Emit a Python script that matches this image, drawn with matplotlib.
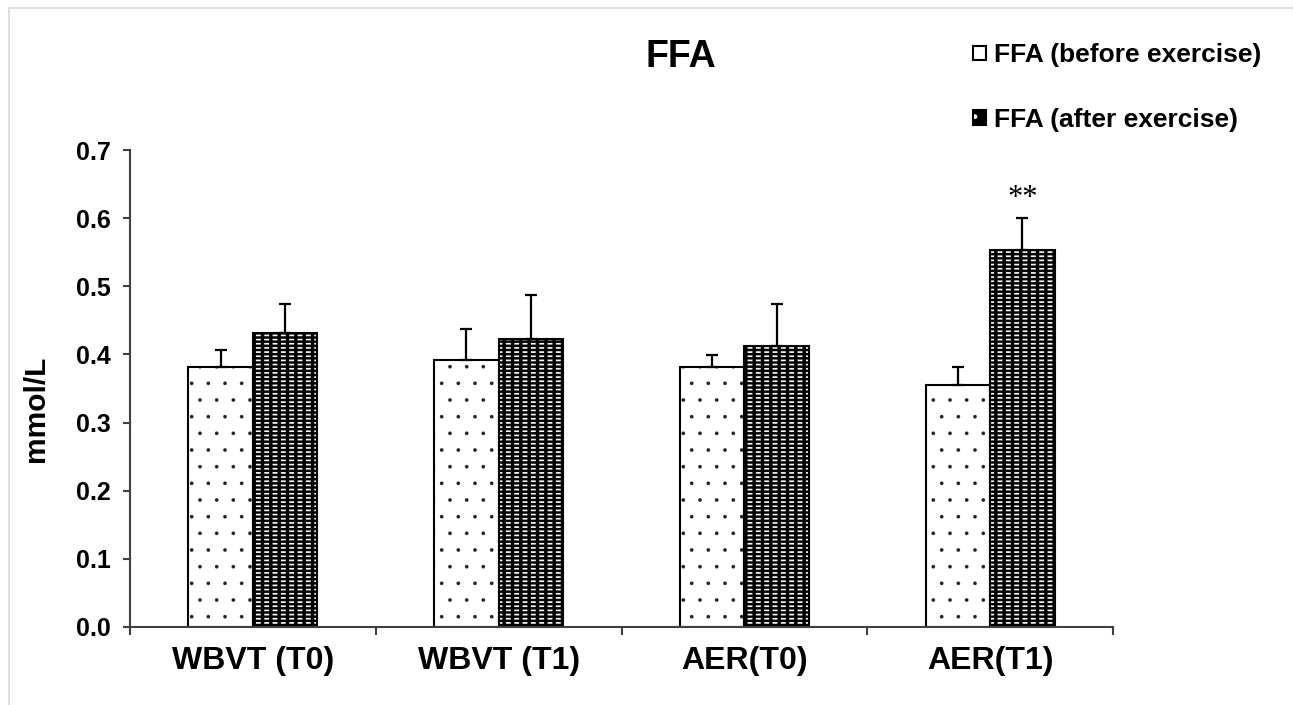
import numpy as np
import matplotlib.pyplot as plt
from matplotlib.patches import Rectangle, Patch

plt.rcParams['font.family'] = ['Liberation Sans', 'DejaVu Sans']
plt.rcParams['hatch.linewidth'] = 1.0

# data
groups = ['WBVT (T0)', 'WBVT (T1)', 'AER(T0)', 'AER(T1)']
before = [0.382, 0.392, 0.381, 0.355]
before_err = [0.025, 0.046, 0.018, 0.027]
after = [0.431, 0.422, 0.413, 0.553]
after_err = [0.043, 0.065, 0.061, 0.047]
labels = ['FFA (before exercise)', 'FFA (after exercise)']
yticks = [0.0, 0.1, 0.2, 0.3, 0.4, 0.5, 0.6, 0.7]

x = np.arange(len(groups))
w = 0.2625


def hatch_lw(artists, lw):
    # per-patch hatch width, when this matplotlib has it
    for a in artists:
        if hasattr(a, 'set_hatch_linewidth'):
            a.set_hatch_linewidth(lw)


fig = plt.figure(figsize=(12.93, 7.05), dpi=100)
ax = fig.add_axes([130/1293, 1-627/705, (1113-130)/1293, (627-150)/705])

# before exercise: white with small dots
b1 = ax.bar(x - w/2, before, w, color='white', edgecolor='#202020', hatch='.', linewidth=0)
hatch_lw(b1, 0.2)
ax.bar(x - w/2, before, w, color='none', edgecolor='black', linewidth=1.5)

# after exercise: black with white dashes (white rows cut by black columns)
b2 = ax.bar(x + w/2, after, w, color='black', edgecolor='white', hatch='----', linewidth=0)
hatch_lw(b2, 1.2)
b3 = ax.bar(x + w/2, after, w, color='none', edgecolor='black', hatch='||', linewidth=0)
hatch_lw(b3, 2.5)
ax.bar(x + w/2, after, w, color='none', edgecolor='black', linewidth=1.5)

ax.errorbar(x - w/2, before, yerr=[np.zeros(4), before_err], fmt='none',
            ecolor='black', elinewidth=1.6, capsize=4.5, capthick=1.6)
ax.errorbar(x + w/2, after, yerr=[np.zeros(4), after_err], fmt='none',
            ecolor='black', elinewidth=1.6, capsize=4.5, capthick=1.6)

# significance mark
ax.text(x[3] + w/2, after[3] + after_err[3] + 0.029, '**', ha='center', va='center',
        fontsize=22, family='Liberation Serif')

ax.set_xlim(-0.5, 3.5)
ax.set_ylim(0, 0.7)
ax.set_yticks(yticks)
ax.set_yticklabels(['%.1f' % t for t in yticks], fontsize=18, fontweight='bold')
ax.set_xticks(x)
ax.set_xticklabels(groups, fontsize=23, fontweight='bold')
ax.set_xticks(np.arange(-0.5, 3.6, 1), minor=True)
ax.tick_params(axis='x', which='major', length=0, pad=14)
ax.tick_params(axis='x', which='minor', length=6, width=1.5, color='#404040', direction='out')
ax.tick_params(axis='y', length=5, width=1.5, color='#404040', pad=9)
for s in ['top', 'right']:
    ax.spines[s].set_visible(False)
for s in ['left', 'bottom']:
    ax.spines[s].set_color('#404040')
    ax.spines[s].set_linewidth(1.5)

fig.text(36/1293, 1-409/705, 'mmol/L', rotation=90, ha='center', va='center',
         fontsize=21.5, fontweight='bold')
fig.text(681/1293, 1-57/705, 'FFA', ha='center', va='center',
         fontsize=27, fontweight='bold')

h_before = Patch(facecolor='white', edgecolor='black', linewidth=1.5)
h_after = Patch(facecolor='black', edgecolor='white', hatch='.', linewidth=0)
h_after_edge = Patch(facecolor='none', edgecolor='black', linewidth=1.5)
leg = fig.legend([h_before, (h_after, h_after_edge)], labels, loc='upper left',
                 bbox_to_anchor=(960/1293, 1-30/705),
                 frameon=False, prop={'size': 19, 'weight': 'bold'},
                 handlelength=0.47, handleheight=0.47, handletextpad=0.3,
                 labelspacing=1.55, borderpad=0)

# light grey frame around the chart area
fig.add_artist(Rectangle((9/1293, -0.1), 1.2, 1.1 - 8/705, transform=fig.transFigure,
                         fill=False, edgecolor='#d9d9d9', linewidth=1.2))

plt.savefig('out.png', dpi=100)
